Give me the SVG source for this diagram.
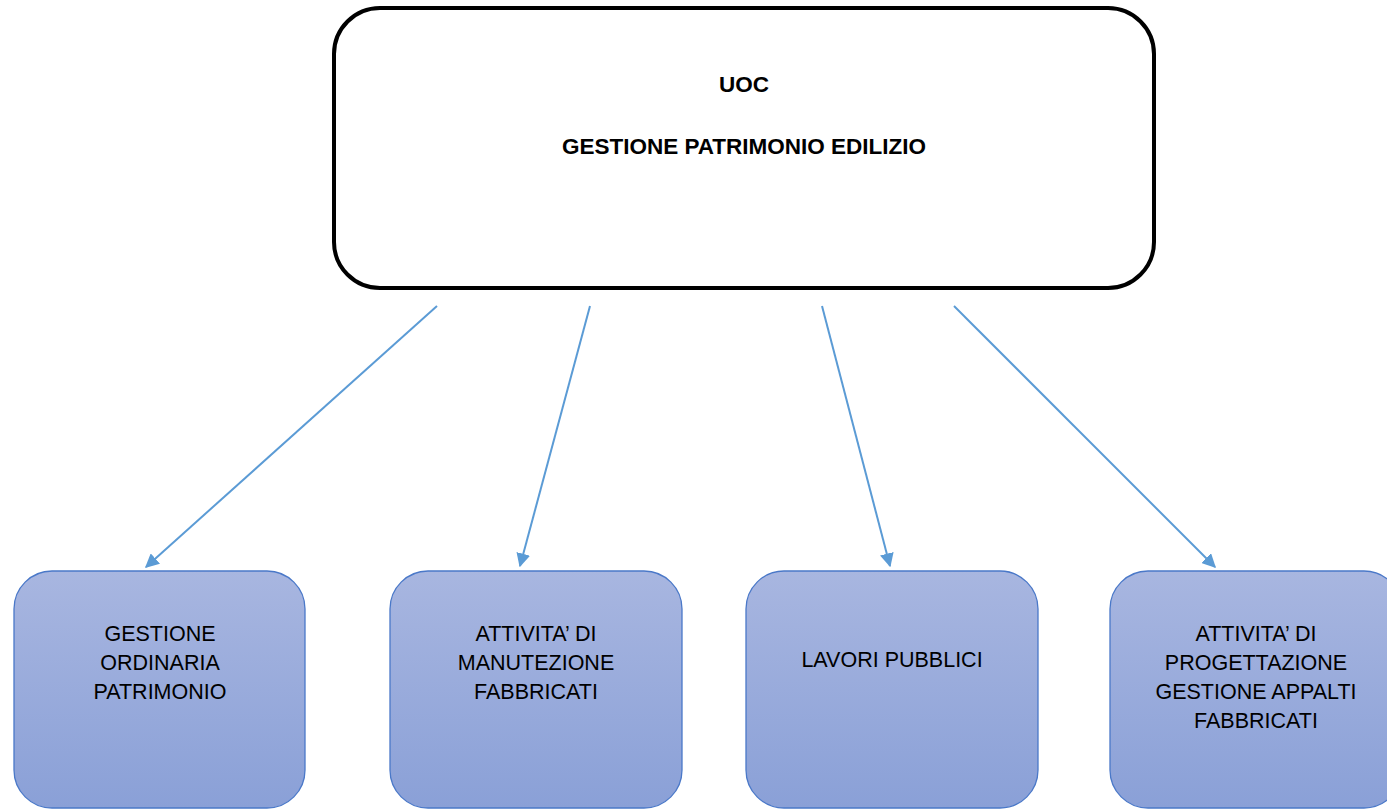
<svg xmlns="http://www.w3.org/2000/svg" width="1387" height="810" viewBox="0 0 1387 810">
<defs>
<linearGradient id="g" x1="0" y1="0" x2="0" y2="1">
<stop offset="0" stop-color="#a8b6e0"/>
<stop offset="1" stop-color="#8aa0d7"/>
</linearGradient>
<marker id="ah" viewBox="0 0 10 10" refX="9" refY="5" markerWidth="7" markerHeight="7" orient="auto" markerUnits="strokeWidth">
<path d="M0,0 L10,5 L0,10 z" fill="#5b9bd5"/>
</marker>
<style>
.box{fill:url(#g);stroke:#4a78c8;stroke-width:1.3}
.t{font-family:"Liberation Sans",Arial,sans-serif;font-size:21.5px;fill:#000;text-anchor:middle}
.tb{font-family:"Liberation Sans",Arial,sans-serif;font-size:22.5px;font-weight:bold;fill:#000;text-anchor:middle}
.c{stroke:#5b9bd5;stroke-width:2;fill:none;marker-end:url(#ah)}
</style>
</defs>
<rect width="1387" height="810" fill="#fff"/>
<g id="top">
<rect x="334" y="8" width="820" height="280" rx="46" ry="46" fill="#fff" stroke="#000" stroke-width="4"/>
<text class="tb" x="744" y="92">UOC</text>
<text class="tb" x="744" y="154">GESTIONE PATRIMONIO EDILIZIO</text>
</g>
<g id="connectors">
<line class="c" x1="437" y1="306" x2="146" y2="567"/>
<line class="c" x1="590" y1="306" x2="520" y2="566"/>
<line class="c" x1="822" y1="306" x2="890" y2="566"/>
<line class="c" x1="954" y1="306" x2="1215" y2="567"/>
</g>
<g id="n1">
<rect class="box" x="14" y="571" width="291" height="237" rx="38" ry="38"/>
<text class="t" x="160" y="641">GESTIONE</text>
<text class="t" x="160" y="670">ORDINARIA</text>
<text class="t" x="160" y="699">PATRIMONIO</text>
</g>
<g id="n2">
<rect class="box" x="390" y="571" width="292" height="237" rx="38" ry="38"/>
<text class="t" x="536" y="641">ATTIVITA’ DI</text>
<text class="t" x="536" y="670">MANUTEZIONE</text>
<text class="t" x="536" y="699">FABBRICATI</text>
</g>
<g id="n3">
<rect class="box" x="746" y="571" width="292" height="237" rx="38" ry="38"/>
<text class="t" x="892" y="667">LAVORI PUBBLICI</text>
</g>
<g id="n4">
<rect class="box" x="1110" y="571" width="292" height="237" rx="38" ry="38"/>
<text class="t" x="1256" y="641">ATTIVITA’ DI</text>
<text class="t" x="1256" y="670">PROGETTAZIONE</text>
<text class="t" x="1256" y="699">GESTIONE APPALTI</text>
<text class="t" x="1256" y="728">FABBRICATI</text>
</g>
</svg>
